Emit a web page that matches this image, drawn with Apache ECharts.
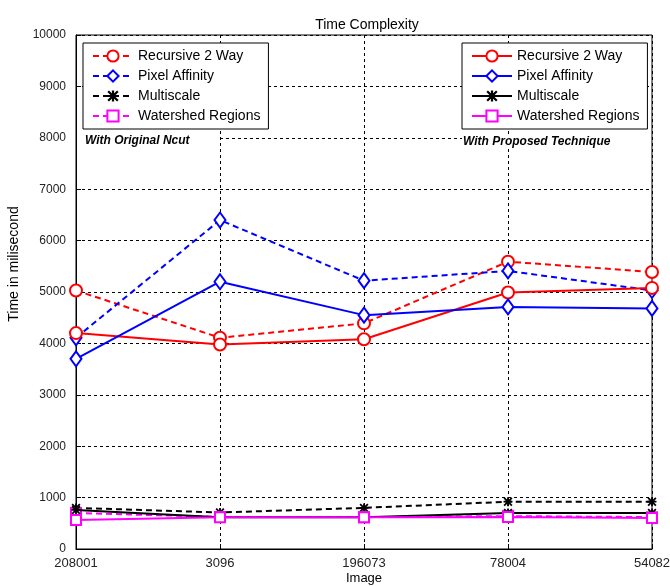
<!DOCTYPE html>
<html><head><meta charset="utf-8">
<script src="https://cdn.jsdelivr.net/npm/echarts@6/dist/echarts.min.js"></script>
<style>html,body{margin:0;padding:0;background:#fff}#c{width:670px;height:586px}</style>
</head><body><div id="c"></div>
<script>
const categories = ['208001','3096','196073','78004','54082'];
const yTicks = [0,1000,2000,3000,4000,5000,6000,7000,8000,9000,10000];
// With Original Ncut (dashed)
const recursiveNcut = [5030, 4110, 4390, 5590, 5390];
const pixelNcut     = [4110, 6400, 5220, 5410, 5030];
const multiNcut     = [800, 710, 800, 920, 920];
const waterNcut     = [700, 625, 620, 640, 620];
// With Proposed Technique (solid)
const recursiveProp = [4200, 3980, 4080, 4990, 5080];
const pixelProp     = [3700, 5200, 4550, 4710, 4680];
const multiProp     = [760, 620, 620, 700, 700];
const waterProp     = [565, 620, 620, 625, 605];

const FONT = 'Liberation Sans, Arial, sans-serif';
const asterisk = 'path://M4,0L6,0L6,10L4,10Z M0,4L10,4L10,6L0,6Z M0,1.4L1.4,0L10,8.6L8.6,10Z M8.6,0L10,1.4L1.4,10L0,8.6Z';

function mk(name, data, color, symbol, size, dashed, fillSym) {
  return {
    name: name, type: 'line', data: data,
    symbol: symbol, symbolSize: size,
    showAllSymbol: true,
    lineStyle: {color: color, width: 2, type: dashed ? [6,4] : 'solid'},
    itemStyle: {color: fillSym ? color : '#fff', borderColor: color, borderWidth: fillSym ? 0 : 2},
    emphasis: {disabled: true},
    z: dashed ? 3 : 4
  };
}
const S = ' ';
const series = [
  mk('Recursive 2 Way', recursiveNcut, '#ff0000', 'circle', 12, true, false),
  mk('Pixel Affinity', pixelNcut, '#0000ff', 'diamond', [11,15], true, false),
  mk('Multiscale', multiNcut, '#000000', asterisk, 9, true, true),
  mk('Watershed Regions', waterNcut, '#ff00ff', 'rect', 10, true, false),
  mk('Recursive 2 Way' + S, recursiveProp, '#ff0000', 'circle', 12, false, false),
  mk('Pixel Affinity' + S, pixelProp, '#0000ff', 'diamond', [11,15], false, false),
  mk('Multiscale' + S, multiProp, '#000000', asterisk, 9, false, true),
  mk('Watershed Regions' + S, waterProp, '#ff00ff', 'rect', 10, false, false)
];

const legendCommon = {
  orient: 'vertical', top: 43, itemWidth: 40, itemHeight: 14, itemGap: 6,
  padding: [6, 8, 6, 9], backgroundColor: '#fff', borderColor: '#000', borderWidth: 1,
  textStyle: {fontFamily: FONT, fontSize: 14, color: '#000'},
  selectedMode: false,
  formatter: n => n.trim()
};

const chart = echarts.init(document.getElementById('c'), null, {renderer: 'canvas'});
chart.setOption({
  animation: false,
  backgroundColor: '#fff',
  title: {text: 'Time Complexity', left: 362, textAlign: 'center', top: 13,
    textStyle: {fontFamily: FONT, fontSize: 14, fontWeight: 'normal', color: '#000'}},
  grid: {left: 76, right: 18, top: 35, bottom: 37, show: true, borderColor: '#000', borderWidth: 1,
    backgroundColor: 'transparent', containLabel: false, outerBoundsMode: 'none'},
  legend: [
    Object.assign({}, legendCommon, {left: 83, data: series.slice(0,4).map(s => s.name)}),
    Object.assign({}, legendCommon, {left: 462, data: series.slice(4).map(s => s.name)})
  ],
  xAxis: {
    type: 'category', data: categories, boundaryGap: false,
    name: 'Image', nameLocation: 'middle', nameGap: 23, nameMoveOverlap: false,
    nameTextStyle: {fontFamily: FONT, fontSize: 13, color: '#000'},
    axisLine: {lineStyle: {color: '#000', width: 1}},
    axisTick: {show: true, inside: true, length: 5, lineStyle: {color: '#000'}},
    axisLabel: {fontFamily: FONT, fontSize: 13, color: '#222', margin: 8},
    splitLine: {show: true, lineStyle: {color: '#000', type: [3,3], width: 1}}
  },
  yAxis: {
    type: 'value', min: 0, max: 10000, interval: 1000,
    name: 'Time in milisecond', nameLocation: 'middle', nameGap: 55, nameMoveOverlap: false,
    nameTextStyle: {fontFamily: FONT, fontSize: 14, color: '#000', padding: [0, 0, 0, 56]},
    axisLine: {show: true, lineStyle: {color: '#000', width: 1}},
    axisTick: {show: true, inside: true, length: 5, lineStyle: {color: '#000'}},
    axisLabel: {fontFamily: FONT, fontSize: 12, color: '#222', margin: 10,
      formatter: v => yTicks.indexOf(v) >= 0 ? String(v) : ''},
    splitLine: {show: true, lineStyle: {color: '#000', type: [3,3], width: 1}}
  },
  graphic: [
    {type: 'rect', left: 77, top: 134, z: 9, shape: {width: 142, height: 14}, style: {fill: '#fff'}},
    {type: 'rect', left: 462, top: 134, z: 9, shape: {width: 189, height: 14}, style: {fill: '#fff'}},
    {type: 'text', left: 85, top: 135, z: 10,
      style: {text: 'With Original Ncut', font: 'italic bold 12px ' + FONT, fill: '#000'}},
    {type: 'text', left: 463, top: 136, z: 10,
      style: {text: 'With Proposed Technique', font: 'italic bold 12px ' + FONT, fill: '#000'}}
  ],
  series: series
});
</script>
</body></html>
